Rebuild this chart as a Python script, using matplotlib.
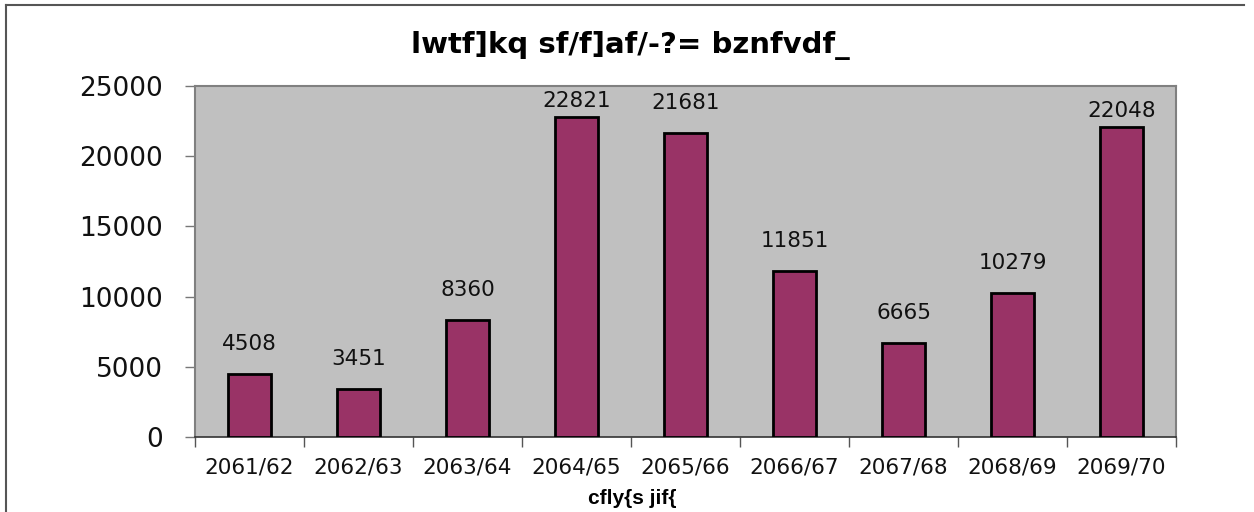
import matplotlib
matplotlib.use("Agg")
import matplotlib.pyplot as plt
import numpy as np

categories = ["2061/62", "2062/63", "2063/64", "2064/65", "2065/66",
              "2066/67", "2067/68", "2068/69", "2069/70"]
values = [4508, 3451, 8360, 22821, 21681, 11851, 6665, 10279, 22048]
yticks = [0, 5000, 10000, 15000, 20000, 25000]
title = "lwtf]kq sf/f]af/-?= bznfvdf_"
xlabel = "cfly{s jif{"

W, H = 1254, 512
fig = plt.figure(figsize=(W / 100, H / 100), dpi=100)
L, R, T, B = 195, 1176, 86, 437
ax = fig.add_axes([L / W, 1 - B / H, (R - L) / W, (B - T) / H])
ax.set_facecolor("#C0C0C0")

x = np.arange(len(categories))
ax.bar(x, values, width=0.4, color="#993366", edgecolor="black", linewidth=2, zorder=3)

ymax = 25000
px_per_unit = (B - T) / ymax
for xi, v in zip(x, values):
    top_px = B - v * px_per_unit
    gap = 20 if (top_px - 20 - 17) > 95 else 6
    ax.annotate(str(v), (xi, v), xytext=(0, gap * 0.72), textcoords="offset points",
                ha="center", va="bottom", fontsize=15.5, color="#111111",
                family="DejaVu Sans")

ax.set_xlim(-0.5, len(categories) - 0.5)
ax.set_ylim(0, ymax)
ax.set_yticks(yticks)
ax.set_yticklabels([str(t) for t in yticks], fontsize=19, color="#111111")
ax.set_xticks(x)
ax.set_xticklabels(categories, fontsize=15.5, color="#111111")
ax.set_xticks(np.arange(-0.5, len(categories), 1), minor=True)
ax.tick_params(axis="x", which="major", length=0, pad=15)
ax.tick_params(axis="x", which="minor", length=7, color="#555555", width=1)
ax.tick_params(axis="y", length=7, color="#777777", width=1, pad=16)

for s in ["top", "right", "left"]:
    ax.spines[s].set_color("#808080")
    ax.spines[s].set_linewidth(1.5)
ax.spines["bottom"].set_color("#333333")
ax.spines["bottom"].set_linewidth(1.2)

fig.text(630 / W, 1 - 45 / H, title, ha="center", va="center",
         fontsize=21, fontweight="bold", family="DejaVu Sans Condensed")
fig.text(632 / W, 1 - 499 / H, xlabel, ha="center", va="center",
         fontsize=15, fontweight="bold", family="Liberation Sans")

# outer chart frame
fig.add_artist(plt.Line2D([6 / W, 1244 / W], [1 - 5 / H, 1 - 5 / H], color="#555555", lw=1.5))
fig.add_artist(plt.Line2D([6 / W, 6 / W], [1 - 5 / H, 0], color="#555555", lw=1.5))

fig.savefig("out.png", dpi=100)
